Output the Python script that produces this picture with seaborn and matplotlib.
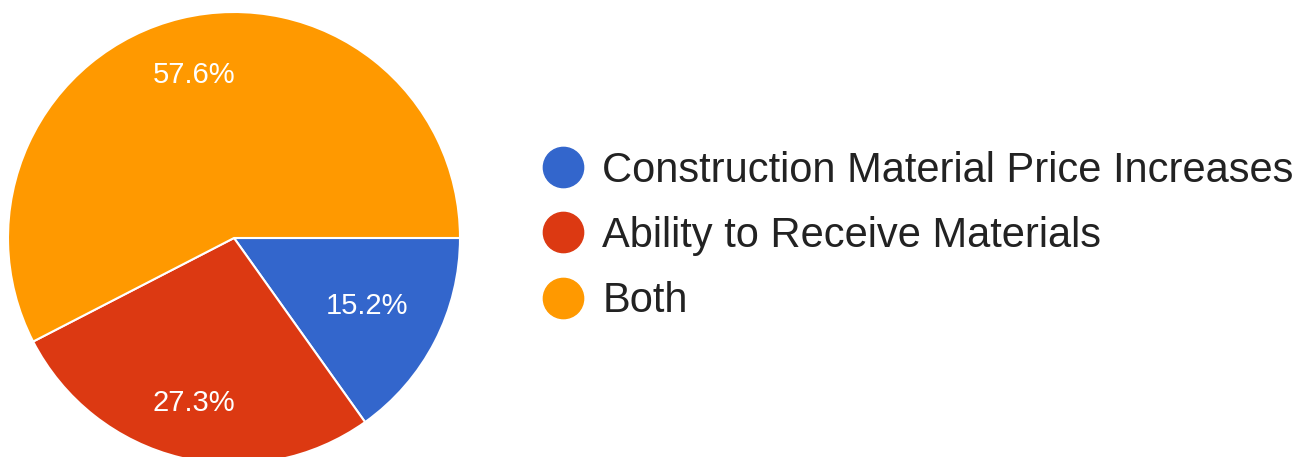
import numpy as np
import matplotlib
matplotlib.use("Agg")
import matplotlib.pyplot as plt
from matplotlib.lines import Line2D
import seaborn as sns

# Survey responses
categories = ["Construction Material Price Increases", "Ability to Receive Materials", "Both"]
counts = [5, 9, 19]

sns.set_theme(style="white")
plt.rcParams["font.family"] = ["Liberation Sans", "DejaVu Sans"]
colors = sns.color_palette(["#3366CC", "#DC3912", "#FF9900"])

W, H = 1309, 457
fig = plt.figure(figsize=(W / 100, H / 100), dpi=100)
cx, cy, r = 234, 219, 226  # centre (from bottom) and radius, in pixels
ax = fig.add_axes([(cx - r) / W, (cy - r) / H, 2 * r / W, 2 * r / H])

wedges, _ = ax.pie(counts, colors=colors, startangle=0, counterclock=False,
                   radius=1, wedgeprops=dict(edgecolor="white", linewidth=1.5))
ax.set_xlim(-1, 1)
ax.set_ylim(-1, 1)
ax.set_axis_off()

# Percentage labels, placed along each wedge's bisector
total = sum(counts)
label_dist = [0.66, 0.75, 0.74]
for w, c, d in zip(wedges, counts, label_dist):
    mid = np.deg2rad((w.theta1 + w.theta2) / 2)
    ax.text(d * np.cos(mid), d * np.sin(mid), f"{100 * c / total:.1f}%",
            ha="center", va="center", color="white", fontsize=21)

handles = [Line2D([], [], marker="o", linestyle="none", markersize=29,
                  markerfacecolor=col, markeredgecolor=col) for col in colors]
fig.legend(handles, categories, loc="center left",
           bbox_to_anchor=(542 / W, (H - 236) / H), frameon=False,
           fontsize=30, handletextpad=0.45, labelspacing=0.61,
           handlelength=1.0, borderpad=0, borderaxespad=0, labelcolor="#222222")

fig.savefig("out.png", dpi=100, facecolor="white")
